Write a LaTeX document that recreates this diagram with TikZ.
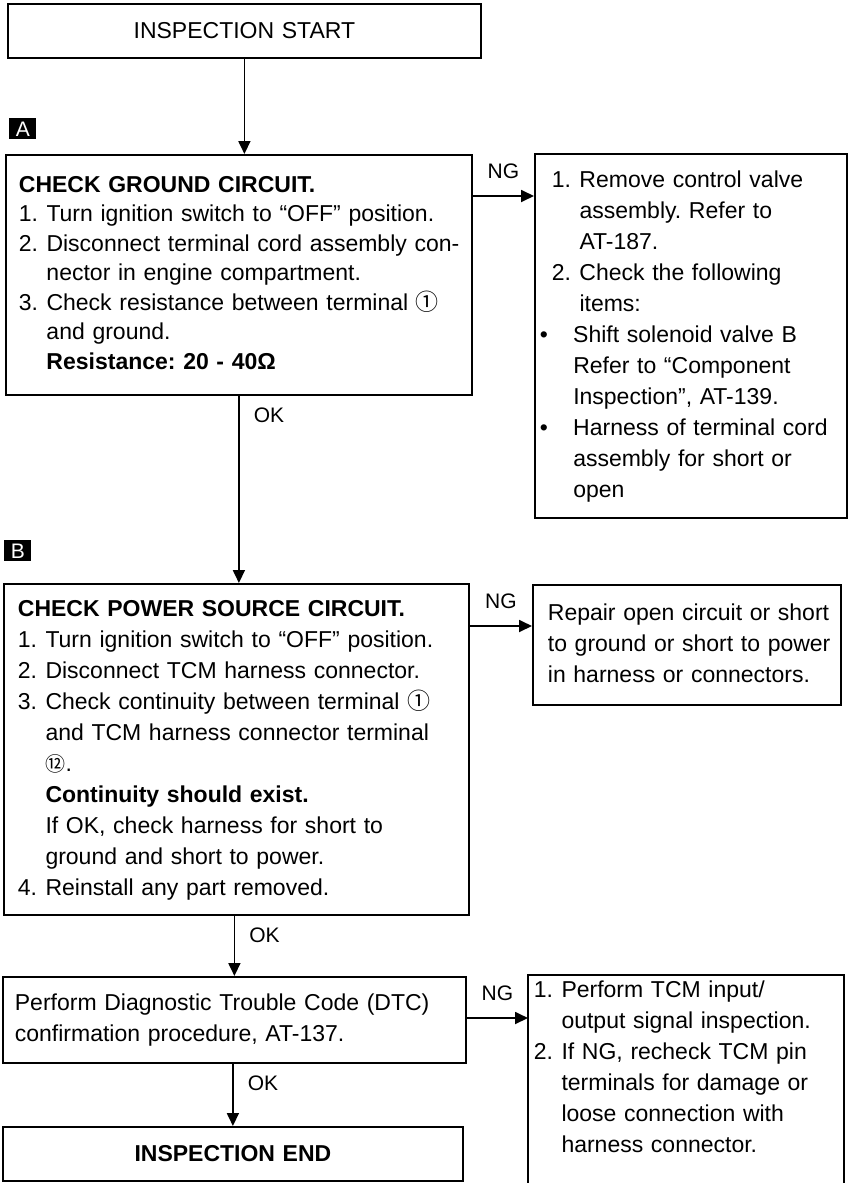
\documentclass[tikz,border=0pt]{standalone}
\usepackage{fontspec}
\setmainfont{Liberation Sans}
\newfontfamily\cjk{Noto Sans CJK JP}
\usepackage{tikz}
\usetikzlibrary{
  arrows.meta,
  calc
}
\frenchspacing

% item labels and hanging indents
\newcommand{\rows}[1]{\begin{tabular}{@{}l@{}}#1\end{tabular}}
\newcommand{\num}[1]{\makebox[1.2em][l]{#1}}
\newcommand{\hng}{\hspace*{1.2em}}
\newcommand{\ind}{\hspace*{6pt}}
\newcommand{\blt}{\makebox[1.45em][l]{\textbullet}}
\newcommand{\bhng}{\hspace*{1.45em}}
\newcommand{\circled}[1]{{\cjk #1}}

\begin{document}
\begin{tikzpicture}[
  x=0.5pt, y=-0.5pt,
  font=\fontsize{11.5}{15.5}\selectfont,
  box/.style={
    draw, line width=0.9pt, anchor=north west,
    align=left, inner ysep=0pt
  },
  marker/.style={
    fill=black, text=white, anchor=north west, inner sep=0pt,
    minimum width=13.5pt, minimum height=10.5pt,
    font=\fontsize{10.5}{10.5}\selectfont
  },
  flow/.style={line width=0.9pt, -{Triangle[length=6.5pt, width=6pt]}},
  tag/.style={font=\fontsize{10.5}{12}\selectfont, inner sep=0pt},
  oktag/.style={tag, anchor=north west, xshift=7pt, yshift=-5.5pt},
  ngtag/.style={tag, above=8pt}
]
\useasboundingbox (0,0) rectangle (849,1183);

% Start
\node[box, align=center, text width=223.5pt, inner xsep=6.5pt,
  minimum height=27pt] (start) at (7,3) {INSPECTION START};

% Step A
\node[marker] (mkA) at (9,118) {A};
\node[box, text width=220pt, inner xsep=6.5pt, minimum height=120pt]
  (chkA) at (5,154) {\renewcommand{\arraystretch}{0.95}\rows{
  \textbf{CHECK GROUND CIRCUIT.}\\
  \num{1.}Turn ignition switch to “OFF” position.\\
  \num{2.}Disconnect terminal cord assembly con-\\
  \hng nector in engine compartment.\\
  \num{3.}Check resistance between terminal \circled{①}\\
  \hng and ground.\\
  \hng\textbf{Resistance: 20 - 40Ω}}
};
\node[box, text width=151pt, inner xsep=2.5pt, minimum height=182pt]
  (ngA) at (534,153) {\rows{
  \ind\num{1.}Remove control valve\\
  \ind\hng assembly. Refer to\\
  \ind\hng AT-187.\\
  \ind\num{2.}Check the following\\
  \ind\hng items:\\
  \blt Shift solenoid valve B\\
  \bhng Refer to “Component\\
  \bhng Inspection”, AT-139.\\
  \blt Harness of terminal cord\\
  \bhng assembly for short or\\
  \bhng open}
};

% Step B
\node[marker] (mkB) at (4,540) {B};
\node[box, text width=218.5pt, inner xsep=7pt, minimum height=165.5pt]
  (chkB) at (3,583) {\rows{
  \textbf{CHECK POWER SOURCE CIRCUIT.}\\
  \num{1.}Turn ignition switch to “OFF” position.\\
  \num{2.}Disconnect TCM harness connector.\\
  \num{3.}Check continuity between terminal \circled{①}\\
  \hng and TCM harness connector terminal\\
  \hng{\cjk\fontsize{10}{10}\selectfont ⑫}.\\
  \hng\textbf{Continuity should exist.}\\
  \hng If OK, check harness for short to\\
  \hng ground and short to power.\\
  \num{4.}Reinstall any part removed.}
};
\node[box, text width=139pt, inner xsep=7.5pt, minimum height=60pt]
  (ngB) at (532,584) {\rows{
  Repair open circuit or short\\
  to ground or short to power\\
  in harness or connectors.}
};

% DTC check
\node[box, text width=219.5pt, inner xsep=6pt, minimum height=43pt]
  (dtc) at (2,976) {\rows{
  Perform Diagnostic Trouble Code (DTC)\\
  confirmation procedure, AT-137.}
};
\node[box, draw=none, text width=152pt, inner xsep=2.5pt, inner ysep=0pt]
  (ngC) at (528,975) {\rows{
  \num{1.}Perform TCM input/\\
  \hng output signal inspection.\\
  \num{2.}If NG, recheck TCM pin\\
  \hng terminals for damage or\\
  \hng loose connection with\\
  \hng harness connector.}
};
\draw[line width=0.9pt] (ngC.north west) rectangle ($(ngC.north east)+(0,230)$);

% End
\node[box, align=center, text width=217pt, inner xsep=6.5pt,
  minimum height=27pt, font=\fontsize{11.5}{15.5}\selectfont\bfseries]
  (endb) at (2,1126) {INSPECTION END};

% OK flow
\draw[flow] (start.south) -- (start.south |- chkA.north);
\draw[flow] (chkA.south) node[oktag] {OK} -- (chkA.south |- chkB.north);
\draw[flow] (dtc.north |- chkB.south) node[oktag] {OK} -- (dtc.north);
\draw[flow] (endb.north |- dtc.south) node[oktag] {OK} -- (endb.north);

% NG branches
\draw[flow] ($(chkA.north east)+(0,42)$) coordinate (fromA)
  -- node[ngtag] {NG} (fromA -| ngA.west);
\draw[flow] ($(chkB.north east)+(0,43)$) coordinate (fromB)
  -- node[ngtag] {NG} (fromB -| ngB.west);
\draw[flow] ($(dtc.north east)+(0,42)$) coordinate (fromC)
  -- node[ngtag] {NG} (fromC -| ngC.west);
\end{tikzpicture}
\end{document}
